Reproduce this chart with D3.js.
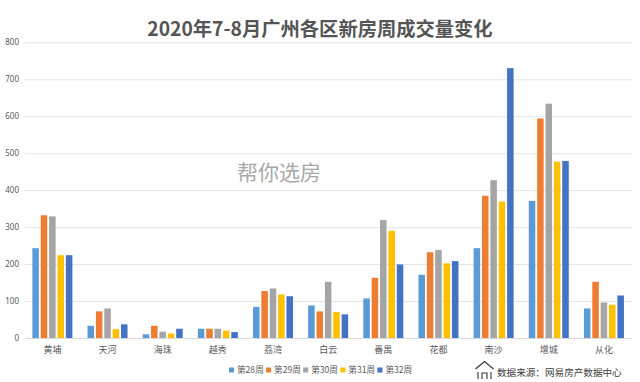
<!DOCTYPE html>
<html><head><meta charset="utf-8">
<script src="https://cdn.jsdelivr.net/npm/d3@7/dist/d3.min.js"></script>
<style>html,body{margin:0;padding:0;background:#fff}svg{display:block}
text{font-family:"Noto Sans CJK SC","Noto Sans",sans-serif}</style></head>
<body><svg id="c" width="640" height="382"></svg>
<script>
const titleText = "2020年7-8月广州各区新房周成交量变化";
const watermark = "帮你选房";
const sourceText = "数据来源：网易房产数据中心";
const categories = ["黄埔","天河","海珠","越秀","荔湾","白云","番禺","花都","南沙","增城","从化"];
const seriesNames = ["第28周","第29周","第30周","第31周","第32周"];
const colors = ["#5b9bd5","#ed7d31","#a5a5a5","#ffc000","#4472c4"];
const week28 = [243,33,10,25,84,88,107,171,243,371,80];
const week29 = [332,72,33,25,127,72,163,232,385,594,152];
const week30 = [329,80,17,25,134,152,319,238,427,634,96];
const week31 = [224,24,12,20,118,70,290,202,369,477,90];
const week32 = [224,37,25,16,113,64,199,208,730,479,115];
const allSeries = [week28,week29,week30,week31,week32];
const yTicks = [0,100,200,300,400,500,600,700,800];

const svg = d3.select("#c");
const x = d3.scaleBand().domain(categories).range([24.8,631.5]);
const y = d3.scaleLinear().domain([0,800]).range([338,42.3]);
const inner = d3.scaleBand().domain(seriesNames).range([0,40]).paddingInner(0.22);

const yAxis = svg.append("g").attr("transform","translate(25,0)")
  .call(d3.axisLeft(y).tickValues(yTicks).tickSize(-607).tickPadding(6));
yAxis.select(".domain").remove();
yAxis.selectAll("line").attr("stroke","#e4e4e4").attr("stroke-width",1);
yAxis.selectAll("text").attr("fill","#595959").style("font-size","8px").attr("text-anchor","end")
  .style("font-family","'Noto Sans'");

const xAxis = svg.append("g").attr("transform","translate(0,338)")
  .call(d3.axisBottom(x).tickSize(0).tickPadding(9));
xAxis.select(".domain").attr("stroke","#d9d9d9");
xAxis.selectAll("text").attr("fill","#595959").style("font-size","9px");

const groups = svg.append("g").selectAll("g").data(allSeries).join("g")
  .attr("fill",(d,i)=>colors[i]);
groups.each(function(vals,si){
  d3.select(this).selectAll("rect").data(vals).join("rect")
    .attr("x",(d,i)=>x(categories[i])+x.bandwidth()/2-20+inner(seriesNames[si]))
    .attr("width",inner.bandwidth())
    .attr("y",d=>y(d))
    .attr("height",d=>y(0)-y(d));
});

svg.append("text").attr("x",320).attr("y",36).attr("text-anchor","middle")
  .attr("fill","#555").attr("font-weight",700).style("font-size","19.3px").text(titleText);
svg.append("text").attr("x",279).attr("y",180).attr("text-anchor","middle")
  .attr("fill","#a8a8a8").style("font-size","21px").text(watermark);

const legend = svg.append("g").selectAll("g").data(seriesNames).join("g")
  .attr("transform",(d,i)=>`translate(${229+i*37.1},370)`);
legend.append("rect").attr("x",0).attr("y",-2.5).attr("width",5).attr("height",5).attr("fill",(d,i)=>colors[i]);
legend.append("text").attr("x",8).attr("y",3.2).attr("fill","#595959").style("font-size","8.6px").text(d=>d);

svg.append("text").attr("x",497).attr("y",376).attr("fill","#404040").style("font-size","9.6px").text(sourceText);
const icon = svg.append("g").attr("fill","none").attr("stroke","#333").attr("stroke-width",1.1);
icon.append("path").attr("d","M475.5,369 L484.5,361.5 L493.5,369");
icon.append("path").attr("d","M478,372 V379 M491,372 V379 M482,379 V373 H487 V379");
</script></body></html>
